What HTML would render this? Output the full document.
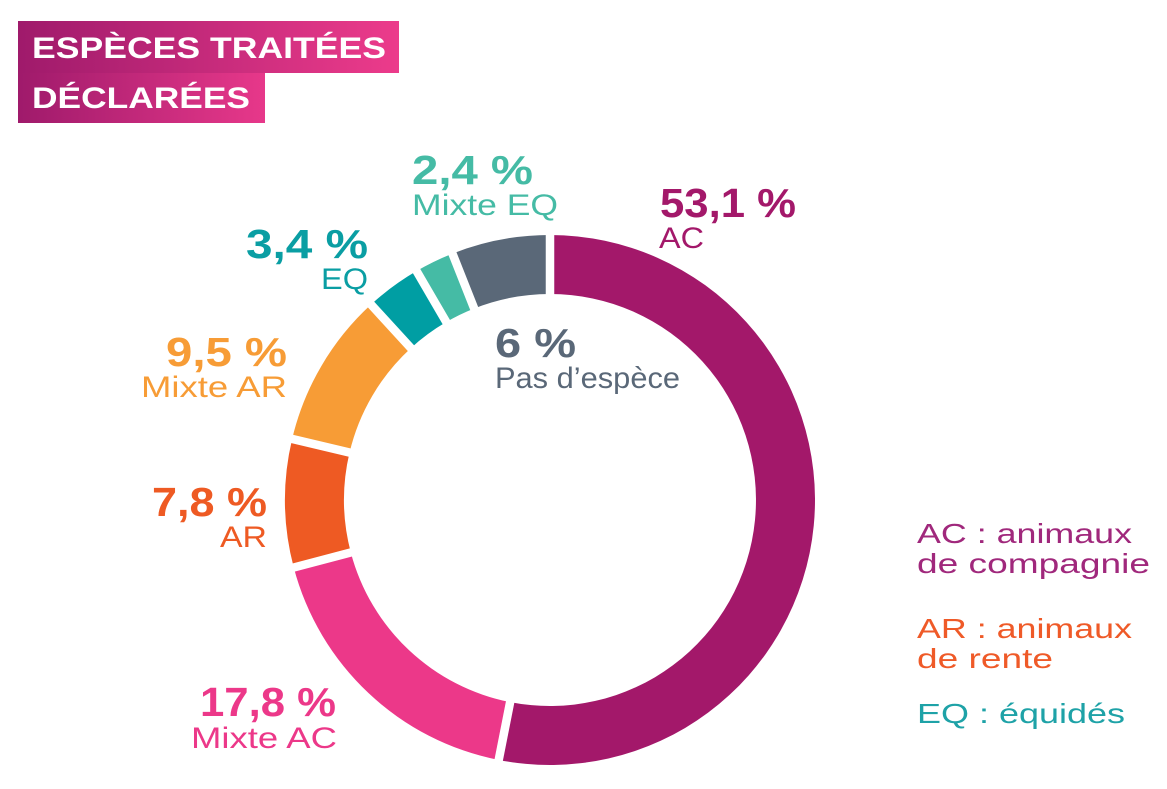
<!DOCTYPE html>
<html>
<head>
<meta charset="utf-8">
<style>
  html,body{margin:0;padding:0;background:#ffffff;}
  body{width:1167px;height:789px;overflow:hidden;}
  svg{display:block;}
  text{font-family:"Liberation Sans", "DejaVu Sans", sans-serif;}
  .p{font-weight:700;font-size:41px;}
  .l{font-weight:400;font-size:30px;}
  .g{font-weight:400;font-size:28px;}
  .t{font-weight:700;font-size:30px;fill:#ffffff;}
</style>
</head>
<body>
<svg width="1167" height="789" viewBox="0 0 1167 789" xmlns="http://www.w3.org/2000/svg">
  <defs>
    <linearGradient id="g1" x1="0" y1="0" x2="1" y2="0">
      <stop offset="0" stop-color="#9f1a6b"/>
      <stop offset="1" stop-color="#ec3b8b"/>
    </linearGradient>
    <linearGradient id="g2" x1="0" y1="0" x2="1" y2="0">
      <stop offset="0" stop-color="#9f1a6b"/>
      <stop offset="1" stop-color="#e7388a"/>
    </linearGradient>
  </defs>

  <!-- Title -->
  <rect x="18" y="21" width="381" height="52" fill="url(#g1)"/>
  <rect x="18" y="73" width="247" height="50" fill="url(#g2)"/>
  <text class="t" x="32" y="58" textLength="354" lengthAdjust="spacingAndGlyphs">ESPÈCES TRAITÉES</text>
  <text class="t" x="32" y="108" textLength="218" lengthAdjust="spacingAndGlyphs">DÉCLARÉES</text>

  <!-- Donut segments -->
  <!-- AC 53.1% -->
  <path d="M550,235 A265,265 0 1 1 498.71,759.99 L510.13,702.11 A206,206 0 1 0 550,294 Z" fill="#a3186a"/>
  <!-- Mixte AC 17.8% -->
  <path d="M498.71,759.99 A265,265 0 0 1 293.74,567.51 L350.80,552.48 A206,206 0 0 0 510.13,702.11 Z" fill="#ec3889"/>
  <!-- AR 7.8% -->
  <path d="M293.74,567.51 A265,265 0 0 1 292.13,438.95 L349.54,452.54 A206,206 0 0 0 350.80,552.48 Z" fill="#ee5a23"/>
  <!-- Mixte AR 9.5% -->
  <path d="M292.13,438.95 A265,265 0 0 1 371.03,304.55 L410.88,348.07 A206,206 0 0 0 349.54,452.54 Z" fill="#f79c36"/>
  <!-- EQ 3.4% -->
  <path d="M371.03,304.55 A265,265 0 0 1 416.54,271.06 L446.25,322.03 A206,206 0 0 0 410.88,348.07 Z" fill="#009ea3"/>
  <!-- Mixte EQ 2.4% -->
  <path d="M416.54,271.06 A265,265 0 0 1 452.45,253.61 L474.17,308.47 A206,206 0 0 0 446.25,322.03 Z" fill="#45bba5"/>
  <!-- Pas d'espece 6% -->
  <path d="M452.45,253.61 A265,265 0 0 1 550,235 L550,294 A206,206 0 0 0 474.17,308.47 Z" fill="#5a6878"/>

  <!-- Gaps -->
  <g stroke="#ffffff" stroke-width="8.5" stroke-linecap="butt">
    <line x1="550" y1="500" x2="550" y2="225"/>
    <line x1="550" y1="500" x2="496.77" y2="769.80"/>
    <line x1="550" y1="500" x2="284.07" y2="570.06"/>
    <line x1="550" y1="500" x2="282.40" y2="436.64"/>
    <line x1="550" y1="500" x2="364.28" y2="297.18"/>
    <line x1="550" y1="500" x2="411.50" y2="262.42"/>
    <line x1="550" y1="500" x2="448.77" y2="244.31"/>
  </g>
  <circle cx="550" cy="500" r="202" fill="#ffffff"/>

  <!-- Labels -->
  <text class="p" x="660" y="217" fill="#a3186a" textLength="136" lengthAdjust="spacingAndGlyphs">53,1 %</text>
  <text class="l" x="659" y="248" fill="#a3186a" textLength="45" lengthAdjust="spacingAndGlyphs">AC</text>

  <text class="p" x="412" y="184" fill="#45bba5" textLength="121" lengthAdjust="spacingAndGlyphs">2,4 %</text>
  <text class="l" x="412" y="215" fill="#45bba5" textLength="146" lengthAdjust="spacingAndGlyphs">Mixte EQ</text>

  <text class="p" x="246" y="258" fill="#0a9ea3" textLength="122" lengthAdjust="spacingAndGlyphs">3,4 %</text>
  <text class="l" x="321" y="289" fill="#0a9ea3" textLength="47" lengthAdjust="spacingAndGlyphs">EQ</text>

  <text class="p" x="166" y="366" fill="#f79c36" textLength="121" lengthAdjust="spacingAndGlyphs">9,5 %</text>
  <text class="l" x="141" y="397" fill="#f79c36" textLength="146" lengthAdjust="spacingAndGlyphs">Mixte AR</text>

  <text class="p" x="152" y="516" fill="#ee5a23" textLength="115" lengthAdjust="spacingAndGlyphs">7,8 %</text>
  <text class="l" x="220" y="547" fill="#ee5a23" textLength="47" lengthAdjust="spacingAndGlyphs">AR</text>

  <text class="p" x="200" y="716" fill="#ec3889" textLength="136" lengthAdjust="spacingAndGlyphs">17,8 %</text>
  <text class="l" x="191" y="748" fill="#ec3889" textLength="146" lengthAdjust="spacingAndGlyphs">Mixte AC</text>

  <text class="p" x="495" y="357" fill="#5a6878" textLength="81" lengthAdjust="spacingAndGlyphs">6 %</text>
  <text class="l" x="495" y="388" fill="#5a6878" textLength="185" lengthAdjust="spacingAndGlyphs">Pas d’espèce</text>

  <!-- Legend -->
  <text class="g" x="917" y="543" fill="#a0287c" textLength="215" lengthAdjust="spacingAndGlyphs">AC : animaux</text>
  <text class="g" x="917" y="573" fill="#a0287c" textLength="233" lengthAdjust="spacingAndGlyphs">de compagnie</text>
  <text class="g" x="917" y="638" fill="#ef5a28" textLength="215" lengthAdjust="spacingAndGlyphs">AR : animaux</text>
  <text class="g" x="917" y="668" fill="#ef5a28" textLength="136" lengthAdjust="spacingAndGlyphs">de rente</text>
  <text class="g" x="917" y="723" fill="#1ea2a7" textLength="208" lengthAdjust="spacingAndGlyphs">EQ : équidés</text>
</svg>
</body>
</html>
